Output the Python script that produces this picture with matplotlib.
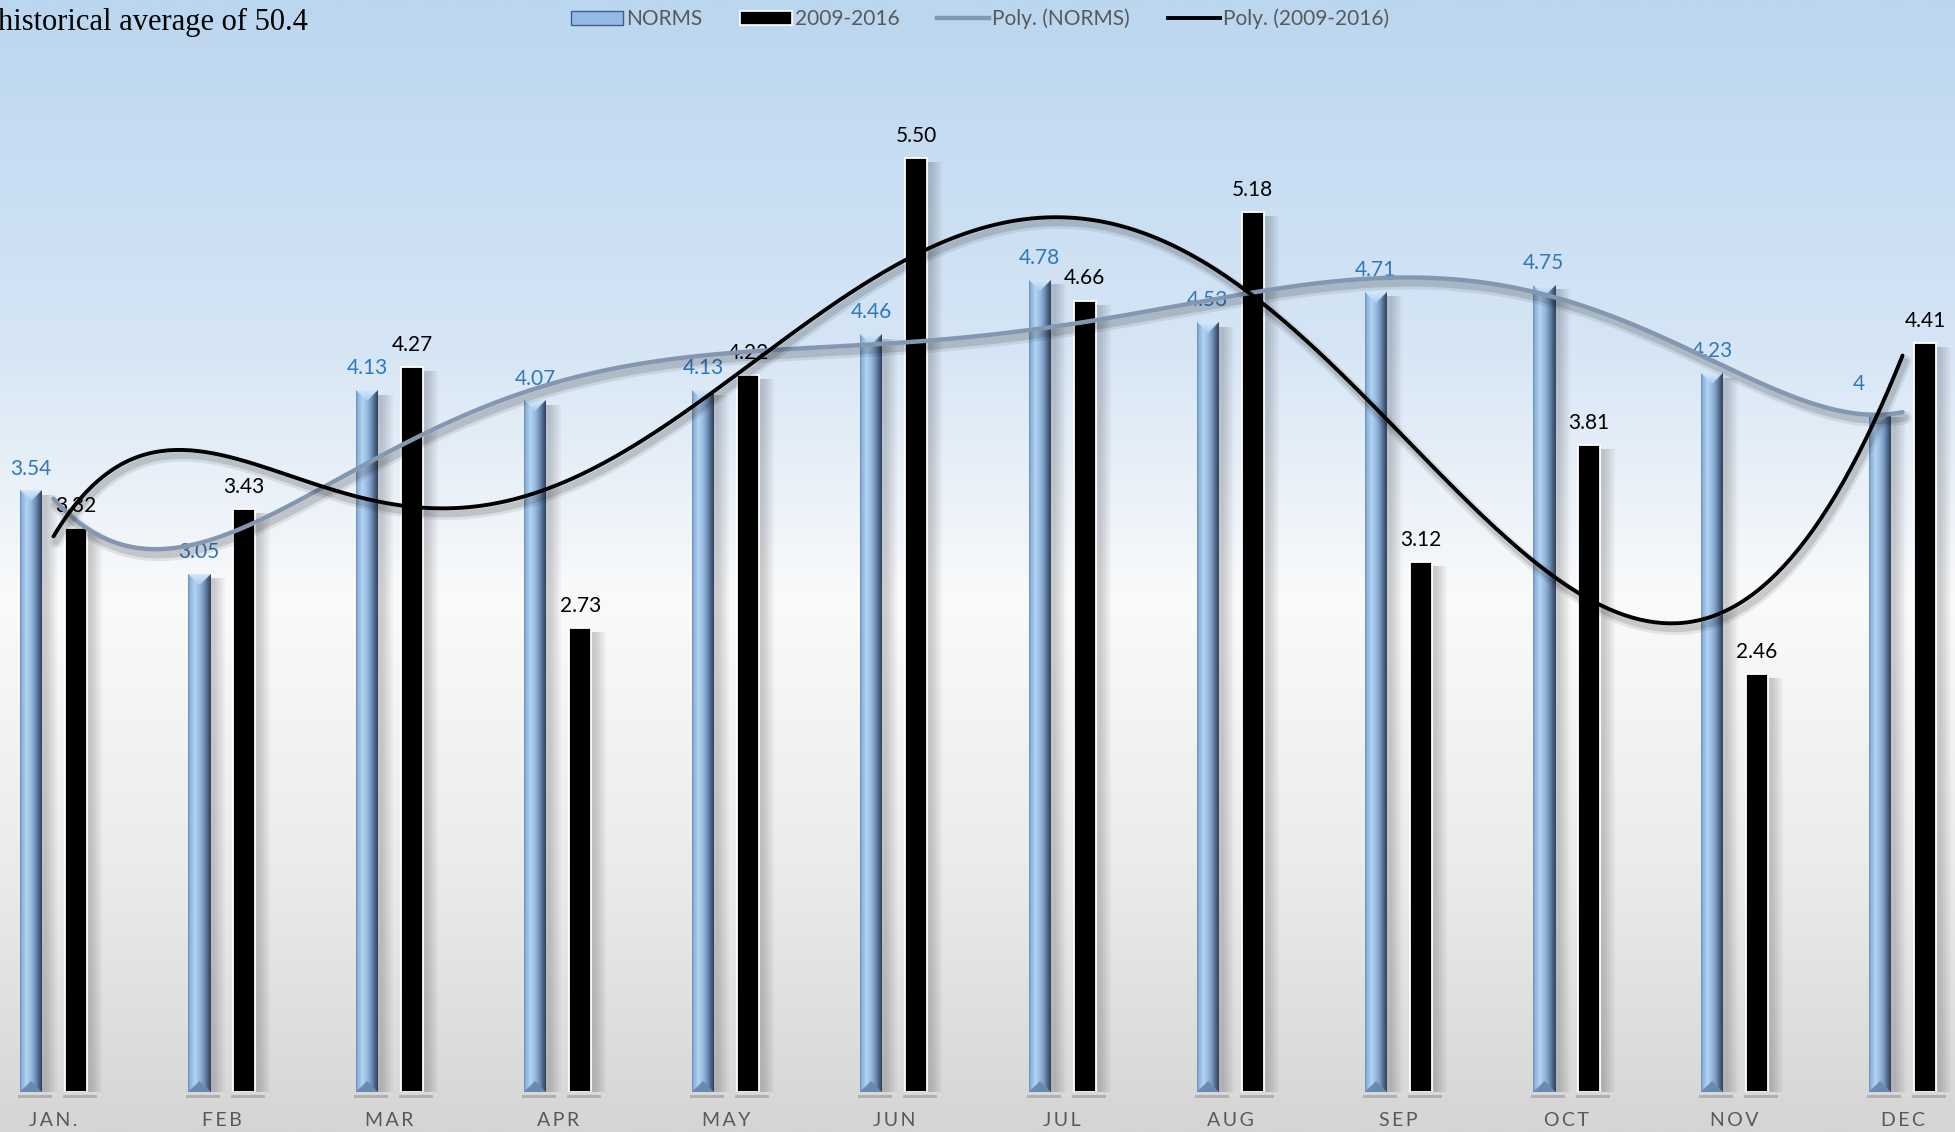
import numpy as np
import matplotlib
matplotlib.use("Agg")
import matplotlib.pyplot as plt
from matplotlib.patches import Rectangle, Patch
from matplotlib.lines import Line2D
import matplotlib.patheffects as pe

# ---- data -------------------------------------------------------------
months = ["JAN.", "FEB", "MAR", "APR", "MAY", "JUN",
          "JUL", "AUG", "SEP", "OCT", "NOV", "DEC"]
norms = [3.54, 3.05, 4.13, 4.07, 4.13, 4.46, 4.78, 4.53, 4.71, 4.75, 4.23, 4.00]
recent = [3.32, 3.43, 4.27, 2.73, 4.22, 5.50, 4.66, 5.18, 3.12, 3.81, 2.46, 4.41]
series_names = ["NORMS", "2009-2016", "Poly. (NORMS)", "Poly. (2009-2016)"]
title_text = "historical average of 50.4"

# ---- canvas -----------------------------------------------------------
W, H, DPI = 1956, 1132, 100
fig = plt.figure(figsize=(W / DPI, H / DPI), dpi=DPI)

# vertical background wash: light blue -> white -> light grey
bg = fig.add_axes([0, 0, 1, 1])
bg.axis("off")
stops = np.array([0.0, 0.30, 0.53, 0.78, 1.0])
cols = np.array([[187, 214, 239], [213, 229, 245], [250, 250, 251],
                 [234, 234, 234], [213, 213, 213]]) / 255.0
yy = np.linspace(0, 1, 600)
grad = np.stack([np.interp(yy, stops, cols[:, c]) for c in range(3)], axis=-1)
bg.imshow(grad[:, None, :], aspect="auto", extent=[0, 1, 0, 1], origin="upper")
bg.set_xlim(0, 1)
bg.set_ylim(0, 1)

axes_bottom_px = 40
ax = fig.add_axes([0, axes_bottom_px / H, 1, (H - axes_bottom_px) / H])
ax.patch.set_alpha(0)
ax.axis("off")
XMIN, XMAX = -0.318, 11.318
YMAX = 6.43
xpx = (XMAX - XMIN) / W                  # data units per pixel (x)
ypx = YMAX / (H - axes_bottom_px)        # data units per pixel (y)

x = np.arange(len(months))
bw = 22 * xpx
off = 22.5 * xpx
label_font = ["Lato", "DejaVu Sans"]


def bevel_image(h_px, w_px):
    """Angle-bevelled column shading (left/right facets, top & bottom caps)."""
    nx = int(w_px * 3)
    ny = max(int(h_px * 2), 4)
    u = (np.arange(nx) + 0.5) / nx
    v = (np.arange(ny) + 0.5) / ny * h_px
    pu = [0.0, 0.07, 0.30, 0.52, 0.72, 0.90, 1.0]
    pc = np.array([[100, 135, 175], [138, 175, 215], [178, 212, 244],
                   [150, 184, 222], [110, 142, 182], [66, 88, 118],
                   [50, 66, 92]]) / 255.0
    prof = np.stack([np.interp(u, pu, pc[:, c]) for c in range(3)], axis=-1)
    img = np.repeat(prof[None, :, :], ny, axis=0)
    d = np.minimum(u, 1 - u) * w_px
    top = v[:, None] < d[None, :]
    bot = (h_px - v)[:, None] < d[None, :]
    t = np.clip(v / (w_px / 2), 0, 1)[:, None, None]
    top_col = (1 - t) * np.array([212, 233, 250]) / 255 + t * np.array([170, 204, 238]) / 255
    top_full = np.broadcast_to(top_col, img.shape)
    img[top] = top_full[top]
    img[bot] = np.array([104, 138, 180]) / 255
    return img


def drop_shadow(x0, w, h):
    for k in range(1, 7):
        ax.add_patch(Rectangle((x0 + 3 * xpx, 0), w + 2 * k * xpx, h - 4 * ypx,
                               facecolor="black", alpha=0.03, lw=0, zorder=1.5))
    ax.add_patch(Rectangle((x0 - 2 * xpx, -6 * ypx), w + 12 * xpx, 3 * ypx,
                           facecolor="black", alpha=0.18, lw=0, zorder=1.5,
                           clip_on=False))


# NORMS columns (bevelled blue)
for xi, v in zip(x, norms):
    x0 = xi - off - bw / 2
    drop_shadow(x0, bw, v)
    img = bevel_image(v / ypx, bw / xpx)
    ax.imshow(img, extent=[x0, x0 + bw, 0, v], origin="upper",
              aspect="auto", interpolation="bilinear", zorder=2)

# 2009-2016 columns (black with white rim)
for xi, v in zip(x, recent):
    x0 = xi + off - bw / 2
    drop_shadow(x0, bw, v)
    ax.add_patch(Rectangle((x0, 0), bw, v, facecolor="black",
                           edgecolor="white", lw=1.3, zorder=2))

# value labels (the December normal label sits nudged up-left of its column)
norm_nudge = {11: (-15, 21)}
for i, (xi, v) in enumerate(zip(x, norms)):
    dx, dy = norm_nudge.get(i, (0, 16))
    ax.annotate(f"{v:g}", (xi - off, v), xytext=(dx, dy), textcoords="offset points",
                ha="center", va="center", fontsize=15, color="#2F78BD",
                family=label_font, zorder=4)
for xi, v in zip(x, recent):
    ax.annotate(f"{v:.2f}", (xi + off, v), xytext=(0, 16), textcoords="offset points",
                ha="center", va="center", fontsize=15, color="black",
                family=label_font, zorder=4)

# 6th-order polynomial trendlines
xm = np.arange(1, 13)
xs = np.linspace(1, 12, 500)
trend_specs = [(norms, "#8497B0", 3.2), (recent, "black", 2.8)]
for vals, col, lw in trend_specs:
    coef = np.polyfit(xm, vals, 6)
    ys = np.polyval(coef, xs)
    ax.plot(xs - 1, ys, color=col, lw=lw, zorder=5, solid_capstyle="round",
            path_effects=[
                pe.SimpleLineShadow(offset=(2, -4), shadow_color="black", alpha=0.08, linewidth=lw + 6),
                pe.SimpleLineShadow(offset=(2, -4), shadow_color="black", alpha=0.12, linewidth=lw + 2),
                pe.Normal()])

# month labels (letter-spaced)
for xi, m in zip(x, months):
    ax.text(xi, -29 / (H - axes_bottom_px), "\u2009".join(m),
            transform=ax.get_xaxis_transform(), ha="center", va="center",
            fontsize=14, color="#595959", family=label_font,
            clip_on=False)

ax.set_xlim(XMIN, XMAX)
ax.set_ylim(0, YMAX)

# title fragment
fig.text(-0.001, 1 - 30 / H, title_text, ha="left", va="baseline",
         fontsize=22, color="black", family=["Liberation Serif", "DejaVu Serif"])

# legend
handles = [
    Patch(facecolor="#93BAE6", edgecolor="#3F5F8A", lw=1.0),
    Patch(facecolor="black", edgecolor="white", lw=1.2),
    Line2D([], [], color="#8497B0", lw=3.2),
    Line2D([], [], color="black", lw=2.8),
]
leg = fig.legend(handles, series_names, loc="center",
                 bbox_to_anchor=(0.501, 1 - 19 / H), ncol=4, frameon=False,
                 handlelength=2.5, handleheight=0.6, handletextpad=0.15,
                 columnspacing=1.8, prop={"family": label_font, "size": 15})
for t in leg.get_texts():
    t.set_color("#595959")

fig.savefig("out.png", dpi=DPI)
